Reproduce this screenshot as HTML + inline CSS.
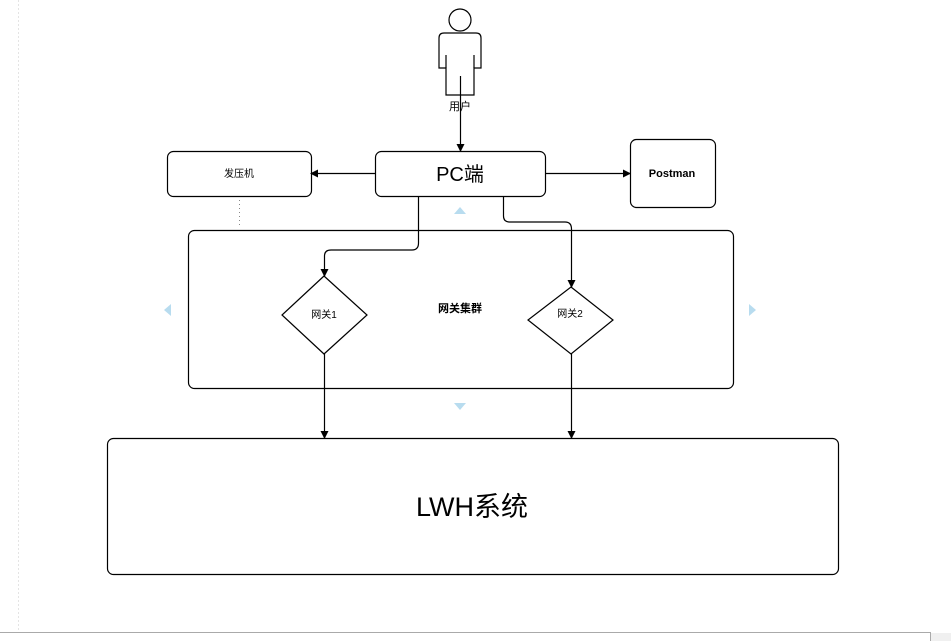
<!DOCTYPE html>
<html><head><meta charset="utf-8"><style>
body{margin:0;width:951px;height:641px;overflow:hidden;background:#fff}
</style></head><body>
<svg width="951" height="641" viewBox="0 0 951 641" xmlns="http://www.w3.org/2000/svg" style="position:absolute;left:0;top:0">
<defs><marker id="a" markerWidth="8" markerHeight="8" refX="7" refY="4" orient="auto" markerUnits="userSpaceOnUse"><path d="M0,0 L8,4 L0,8 z" fill="#000"/></marker></defs>
<line x1="18.5" y1="0" x2="18.5" y2="632" stroke="#e4e4e4" stroke-dasharray="2,2"/>
<line x1="0" y1="632.5" x2="930" y2="632.5" stroke="#aaa"/>
<line x1="930.5" y1="632" x2="930.5" y2="641" stroke="#aaa"/>
<rect x="931" y="633" width="20" height="8" fill="#f0f0f0"/>
<g fill="none" stroke="#000" stroke-width="1.2">
<circle cx="460" cy="20" r="11"/>
<path d="M439,68 V38 Q439,33 444,33 H476 Q481,33 481,38 V68 H474 V95 H446 V68 H439 Z"/>
<line x1="446" y1="55" x2="446" y2="68"/><line x1="474" y1="55" x2="474" y2="68"/>
<rect x="375.5" y="151.5" width="170" height="45" rx="6"/>
<rect x="167.5" y="151.5" width="144" height="45" rx="6"/>
<rect x="630.5" y="139.5" width="85" height="68" rx="6"/>
<rect x="188.5" y="230.5" width="545" height="158" rx="6"/>
<rect x="107.5" y="438.5" width="731" height="136" rx="6"/>
<path d="M324,276 L367,315 L324,354 L282,315 Z"/>
<path d="M571,287 L613,320 L571,354 L528,320 Z"/>
<line x1="460.5" y1="76" x2="460.5" y2="151" marker-end="url(#a)"/>
<line x1="375" y1="173.5" x2="311" y2="173.5" marker-end="url(#a)"/>
<line x1="545" y1="173.5" x2="630" y2="173.5" marker-end="url(#a)"/>
<path d="M418.5,197 V243 Q418.5,250 412,250 H331 Q324.5,250 324.5,256 V276" marker-end="url(#a)"/>
<path d="M503.5,197 V216 Q503.5,222 510,222 H565 Q571.5,222 571.5,229 V287" marker-end="url(#a)"/>
<line x1="324.5" y1="354" x2="324.5" y2="438" marker-end="url(#a)"/>
<line x1="571.5" y1="354" x2="571.5" y2="438" marker-end="url(#a)"/>
</g>
<line x1="239.5" y1="200" x2="239.5" y2="228" stroke="#888" stroke-dasharray="1,3"/>
<g fill="#b8dcef">
<path d="M454,214 L466,214 L460,207 Z"/>
<path d="M454,403 L466,403 L460,410 Z"/>
<path d="M171,304 L171,316 L164,310 Z"/>
<path d="M749,304 L749,316 L756,310 Z"/>
</g>
<g font-family="Liberation Sans, Noto Sans CJK SC, sans-serif" text-anchor="middle" fill="#000">
<text x="460" y="110" font-size="11">用户</text>
<text x="460" y="181" font-size="20">PC端</text>
<text x="239" y="177" font-size="10">发压机</text>
<text x="672" y="177" font-size="11" font-weight="bold">Postman</text>
<text x="460" y="312" font-size="11" font-weight="bold">网关集群</text>
<text x="324" y="318" font-size="10">网关1</text>
<text x="570" y="317" font-size="10">网关2</text>
<text x="472" y="516" font-size="27">LWH系统</text>
</g>
</svg>
</body></html>
